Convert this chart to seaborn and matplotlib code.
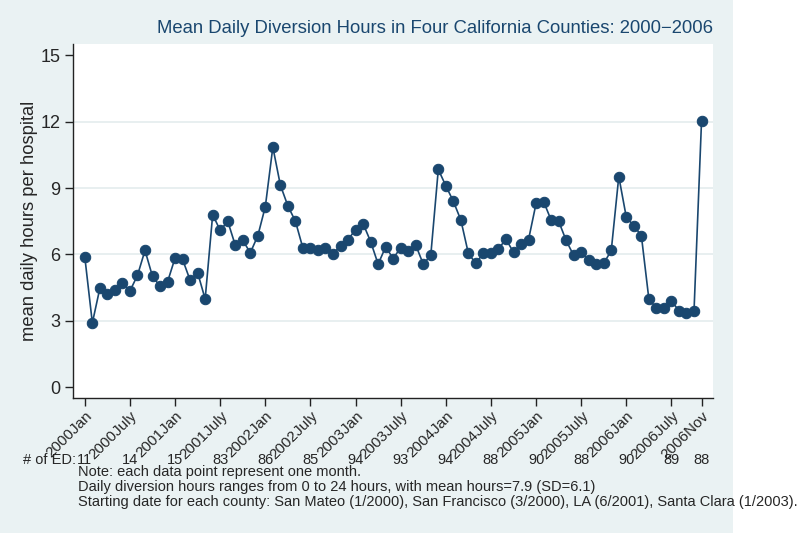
import matplotlib
matplotlib.use('Agg')
import matplotlib.pyplot as plt
from matplotlib.patches import Rectangle
import matplotlib.transforms as mtransforms
import numpy as np
import pandas as pd
import seaborn as sns

# mean daily diversion hours per hospital, one value per month (2000Jan .. 2006Nov)
hours_2000 = [5.87, 2.90, 4.47, 4.23, 4.41, 4.70, 4.35, 5.05, 6.18, 5.00, 4.56, 4.76]
hours_2001 = [5.84, 5.77, 4.83, 5.17, 3.98, 7.80, 7.08, 7.50, 6.42, 6.64, 6.07, 6.84]
hours_2002 = [8.16, 10.85, 9.13, 8.19, 7.50, 6.28, 6.28, 6.19, 6.28, 6.01, 6.40, 6.67]
hours_2003 = [7.12, 7.39, 6.58, 5.56, 6.34, 5.81, 6.31, 6.15, 6.42, 5.56, 5.96, 9.84]
hours_2004 = [9.10, 8.40, 7.55, 6.04, 5.59, 6.07, 6.04, 6.25, 6.69, 6.09, 6.45, 6.67]
hours_2005 = [8.30, 8.39, 7.55, 7.50, 6.63, 5.95, 6.09, 5.74, 5.56, 5.59, 6.18, 9.52]
hours_2006 = [7.68, 7.29, 6.85, 3.98, 3.57, 3.57, 3.90, 3.45, 3.33, 3.42, 12.02]

tick_months = [0, 6, 12, 18, 24, 30, 36, 42, 48, 54, 60, 66, 72, 78, 82]
tick_labels = ['2000Jan', '2000July', '2001Jan', '2001July', '2002Jan', '2002July',
               '2003Jan', '2003July', '2004Jan', '2004July', '2005Jan', '2005July',
               '2006Jan', '2006July', '2006Nov']
ed_counts = [11, 14, 15, 83, 86, 85, 94, 93, 94, 88, 90, 88, 90, 89, 88]

y_ticks = [0, 3, 6, 9, 12, 15]

title = 'Mean Daily Diversion Hours in Four California Counties: 2000\u22122006'
notes = ('Note: each data point represent one month.\n'
         'Daily diversion hours ranges from 0 to 24 hours, with mean hours=7.9 (SD=6.1)\n'
         'Starting date for each county: San Mateo (1/2000), San Francisco (3/2000), '
         'LA (6/2001), Santa Clara (1/2003).')

hours = hours_2000 + hours_2001 + hours_2002 + hours_2003 + hours_2004 + hours_2005 + hours_2006
df = pd.DataFrame({'month': np.arange(len(hours)), 'hours': hours})

NAVY = '#1A476F'
BG = '#EAF2F3'

sns.set_theme(style='white')
plt.rcParams['font.family'] = ['Liberation Sans', 'DejaVu Sans']

fig = plt.figure(figsize=(8, 5.33), dpi=100)
fig.patch.set_facecolor('white')
fig.patches.append(Rectangle((0, 0), 733 / 800, 1, transform=fig.transFigure,
                             facecolor=BG, edgecolor='none', zorder=-10))

ax = fig.add_axes([0.091, 0.253, 0.80, 0.664])
ax.set_facecolor('white')

sns.lineplot(data=df, x='month', y='hours', ax=ax, color=NAVY, linewidth=1.2,
             marker='o', markersize=7.5, markeredgecolor=NAVY, markerfacecolor=NAVY)

ax.set_xlim(-1.6, 83.5)
ax.set_ylim(-0.5, 15.5)

ax.set_yticks(y_ticks)
ax.set_yticklabels([str(v) for v in y_ticks], fontsize=13)
for v in y_ticks[1:-1]:
    ax.axhline(v, color='#E4ECEE', linewidth=1.2, zorder=0)

ax.set_xticks(tick_months)
ax.set_xticklabels(tick_labels, rotation=45, ha='right', rotation_mode='anchor', fontsize=11)
ax.tick_params(axis='both', which='both', direction='out', length=6, width=1, color='#222222',
               bottom=True, left=True, pad=3)
ax.tick_params(axis='x', pad=2)

for s in ['top', 'right']:
    ax.spines[s].set_visible(False)
for s in ['left', 'bottom']:
    ax.spines[s].set_color('#222222')
    ax.spines[s].set_linewidth(1)

ax.set_xlabel('')
ax.set_ylabel('mean daily hours per hospital', fontsize=13.2, labelpad=2)

ax.text(1.0, 1.02, title, transform=ax.transAxes, ha='right', va='bottom',
        fontsize=13.3, color=NAVY)

# number of EDs under each tick
trans = mtransforms.blended_transform_factory(ax.transData, fig.transFigure)
fig.text(0.0955, 0.137, '# of ED:', ha='right', va='center', fontsize=10.5)
for m, n in zip(tick_months, ed_counts):
    ax.text(m, 0.137, str(n), transform=trans, ha='center', va='center', fontsize=10.5,
            clip_on=False)

fig.text(0.097, 0.127, notes, ha='left', va='top', fontsize=10.5, linespacing=1.08)

fig.savefig('out.png', dpi=100, facecolor=fig.get_facecolor())
